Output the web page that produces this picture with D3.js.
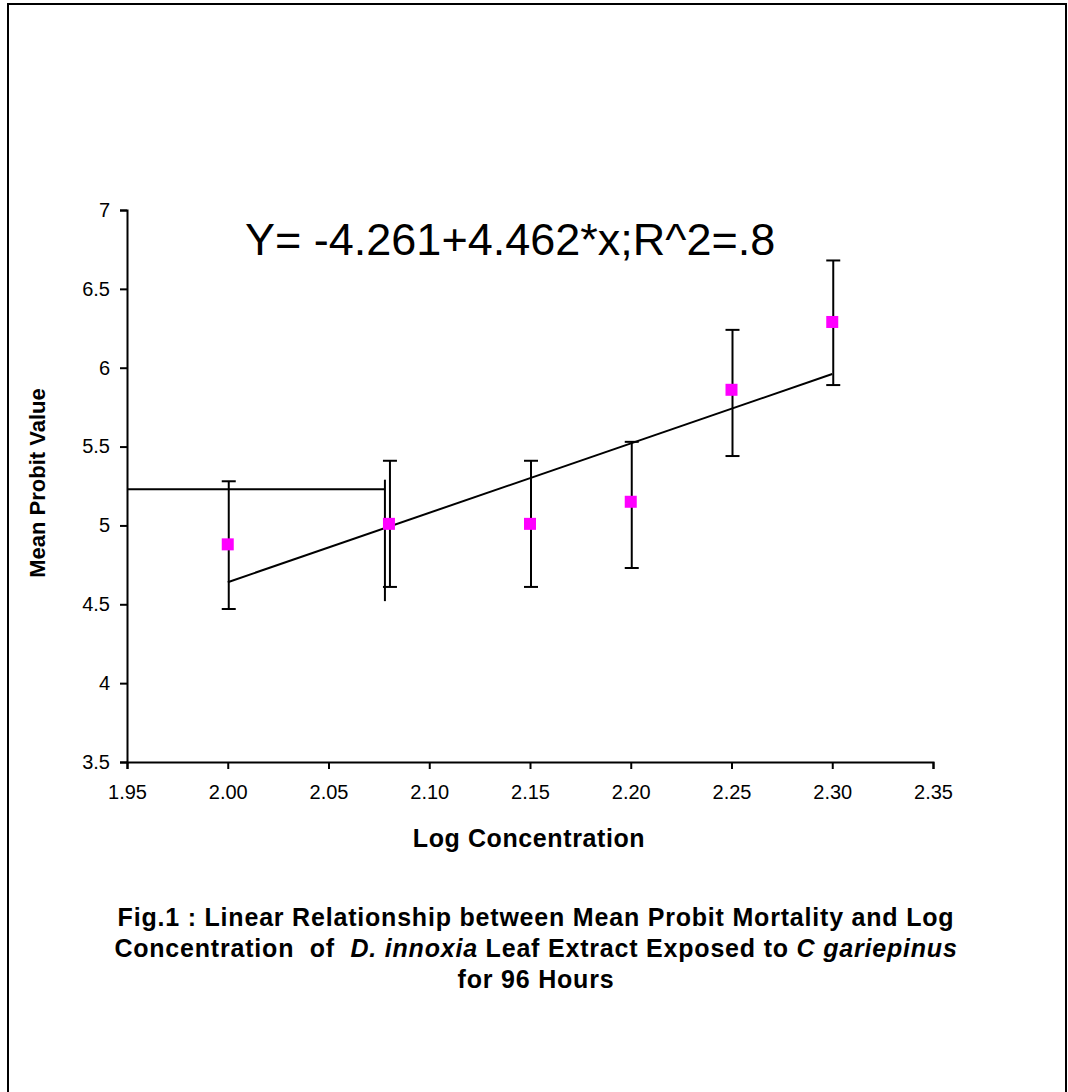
<!DOCTYPE html>
<html>
<head>
<meta charset="utf-8">
<script src="https://cdn.jsdelivr.net/npm/d3@7"></script>
<style>
  body { margin: 0; background: #fff; }
  text { font-family: "Liberation Sans", Arial, sans-serif; fill: #000; }
</style>
</head>
<body>
<div id="container"></div>
<script>
// window size
let cwW = 1068;
let cwH = 1092;

// data
const logConc    = [2.00, 2.08, 2.15, 2.20, 2.25, 2.30];
const meanProbit = [4.88, 5.01, 5.01, 5.15, 5.86, 6.29];
const errUp      = [0.40, 0.40, 0.40, 0.38, 0.38, 0.39];
const errDown    = [0.41, 0.40, 0.40, 0.42, 0.42, 0.40];

// fitted line end points
const fitX = [2.00, 2.30];
const fitY = [4.64, 5.96];

// LC50 guide lines
const guideX = 2.078;
const guideY = 5.23;
const guideVert = [5.29, 4.52];

const xTicks = [1.95, 2.00, 2.05, 2.10, 2.15, 2.20, 2.25, 2.30, 2.35];
const yTicks = [3.5, 4, 4.5, 5, 5.5, 6, 6.5, 7];

const points = logConc.map((d, i) => ({x: d, y: meanProbit[i], up: errUp[i], down: errDown[i]}));

let svgArea = d3.select("#container")
  .append("svg")
  .attr("width", cwW)
  .attr("height", cwH);

// frame
svgArea.append("rect")
  .attr("x", 8).attr("y", 4)
  .attr("width", 1058).attr("height", 1100)
  .attr("fill", "none")
  .attr("stroke", "#000")
  .attr("stroke-width", 2);

let x = d3.scaleLinear().domain([1.95, 2.35]).range([127, 933]);
let y = d3.scaleLinear().domain([3.5, 7]).range([762, 210]);

/**************************
* Axes
**************************/
let xAxis = svgArea.append("g")
  .attr("transform", "translate(0," + y(3.5) + ")")
  .call(d3.axisBottom(x).tickValues(xTicks).tickFormat(d3.format(".2f")).tickSize(7).tickPadding(16));

let yAxis = svgArea.append("g")
  .attr("transform", "translate(" + x(1.95) + ",0)")
  .call(d3.axisLeft(y).tickValues(yTicks).tickFormat(d3.format("")).tickSize(7).tickPadding(10));

[xAxis, yAxis].forEach(function(g){
  g.select(".domain").attr("stroke", "#000").attr("stroke-width", 2);
  g.selectAll(".tick line").attr("stroke", "#000").attr("stroke-width", 2);
  g.selectAll(".tick text")
    .attr("font-family", "Liberation Sans, Arial, sans-serif")
    .attr("font-size", 20)
    .attr("fill", "#000");
});

/**************************
* Guide lines
**************************/
svgArea.append("line")
  .attr("x1", x(1.95)).attr("y1", y(guideY))
  .attr("x2", x(guideX)).attr("y2", y(guideY))
  .attr("stroke", "#000").attr("stroke-width", 2);
svgArea.append("line")
  .attr("x1", x(guideX)).attr("y1", y(guideVert[0]))
  .attr("x2", x(guideX)).attr("y2", y(guideVert[1]))
  .attr("stroke", "#000").attr("stroke-width", 2);

/**************************
* Fit line
**************************/
svgArea.append("line")
  .attr("x1", x(fitX[0])).attr("y1", y(fitY[0]))
  .attr("x2", x(fitX[1])).attr("y2", y(fitY[1]))
  .attr("stroke", "#000").attr("stroke-width", 2);

/**************************
* Error bars and points
**************************/
let bars = svgArea.append("g").attr("id", "errorbars")
  .selectAll("g")
  .data(points)
  .enter()
  .append("g")
  .attr("stroke", "#000")
  .attr("stroke-width", 2);

bars.append("line")
  .attr("x1", d => x(d.x) + 1).attr("x2", d => x(d.x) + 1)
  .attr("y1", d => y(d.y + d.up)).attr("y2", d => y(d.y - d.down));
bars.append("line")
  .attr("x1", d => x(d.x) - 6).attr("x2", d => x(d.x) + 8)
  .attr("y1", d => y(d.y + d.up)).attr("y2", d => y(d.y + d.up));
bars.append("line")
  .attr("x1", d => x(d.x) - 6).attr("x2", d => x(d.x) + 8)
  .attr("y1", d => y(d.y - d.down)).attr("y2", d => y(d.y - d.down));

svgArea.append("g").attr("id", "points")
  .selectAll("rect")
  .data(points)
  .enter()
  .append("rect")
  .attr("x", d => x(d.x) - 6)
  .attr("y", d => y(d.y) - 6)
  .attr("width", 12)
  .attr("height", 12)
  .attr("fill", "#ff00ff");

/**************************
* Texts
**************************/
svgArea.append("text")
  .attr("x", 245).attr("y", 255)
  .attr("font-size", 45)
  .text("Y= -4.261+4.462*x;R^2=.8");

svgArea.append("text")
  .attr("x", 529).attr("y", 847)
  .attr("text-anchor", "middle")
  .attr("font-size", 25)
  .attr("letter-spacing", 0.6)
  .attr("font-weight", "bold")
  .text("Log Concentration");

svgArea.append("text")
  .attr("transform", "translate(45,483) rotate(-90)")
  .attr("text-anchor", "middle")
  .attr("font-size", 22)
  .attr("font-weight", "bold")
  .text("Mean Probit Value");

let caption = svgArea.append("text")
  .attr("text-anchor", "middle")
  .attr("font-size", 25)
  .attr("letter-spacing", 0.8)
  .attr("font-weight", "bold");

caption.append("tspan").attr("x", 536).attr("y", 926)
  .text("Fig.1 : Linear Relationship between Mean Probit Mortality and Log");

let line2 = caption.append("tspan").attr("x", 536).attr("y", 957);
line2.append("tspan").text("Concentration\u00a0 of\u00a0 ");
line2.append("tspan").attr("font-style", "italic").text("D. innoxia");
line2.append("tspan").text(" Leaf Extract Exposed to ");
line2.append("tspan").attr("font-style", "italic").text("C gariepinus");

caption.append("tspan").attr("x", 536).attr("y", 988)
  .text("for 96 Hours");
</script>
</body>
</html>
